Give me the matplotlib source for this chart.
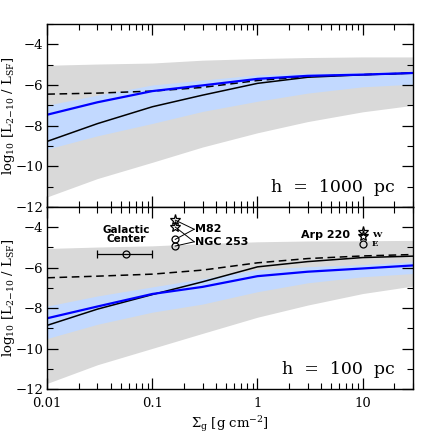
import numpy as np
import matplotlib
matplotlib.use('Agg')
import matplotlib.pyplot as plt
from matplotlib.ticker import LogLocator, NullFormatter, FixedLocator, MultipleLocator

plt.rcParams['font.family'] = 'DejaVu Serif'
plt.rcParams['mathtext.fontset'] = 'dejavuserif'

# surface density grid [g cm^-2]
sigma = [0.01, 0.03, 0.1, 0.3, 1, 3, 10, 30]

# h = 1000 pc
top_gray_hi = [-5.03, -4.97, -4.92, -4.78, -4.70, -4.65, -4.62, -4.62]
top_gray_lo = [-11.5, -10.6, -9.8, -9.05, -8.35, -7.8, -7.32, -7.0]
top_blue_hi = [-6.99, -6.5, -6.0, -5.76, -5.5, -5.43, -5.39, -5.33]
top_blue_lo = [-9.15, -8.5, -7.89, -7.3, -6.8, -6.4, -6.09, -5.96]
top_blue = [-7.46, -6.85, -6.3, -6.02, -5.7, -5.55, -5.49, -5.41]
top_dash = [-6.45, -6.4, -6.3, -6.12, -5.78, -5.58, -5.49, -5.41]
top_black = [-8.77, -7.9, -7.07, -6.5, -5.92, -5.62, -5.5, -5.42]

# h = 100 pc
bot_gray_hi = [-5.05, -4.98, -4.92, -4.81, -4.72, -4.68, -4.67, -4.65]
bot_gray_lo = [-11.72, -10.8, -9.99, -9.25, -8.45, -7.85, -7.28, -6.91]
bot_blue_hi = [-7.9, -7.4, -6.95, -6.55, -6.1, -5.95, -5.85, -5.71]
bot_blue_lo = [-9.5, -8.8, -8.2, -7.8, -7.19, -6.75, -6.45, -6.29]
bot_blue = [-8.5, -7.92, -7.3, -6.95, -6.42, -6.2, -6.04, -5.89]
bot_dash = [-6.5, -6.42, -6.32, -6.12, -5.76, -5.55, -5.42, -5.35]
bot_black = [-8.85, -8.05, -7.33, -6.7, -5.96, -5.7, -5.5, -5.43]

# observed galaxies
gc_x, gc_y, gc_xlo, gc_xhi = 0.056, -5.33, 0.030, 0.1
star_x = 0.165
star_y = [-3.65, -3.99]      # M82, NGC 253
circ_y = [-4.6, -4.93]
lab_x = 0.25
lab_y = [-4.1, -4.72]
lab_txt = ['M82', 'NGC 253']
arp_x = 10.2
arp_star_y = [-4.25, -4.42]
arp_circ_y = -4.83

gray = '#d9d9d9'
lblue = '#c2d9ff'

fig = plt.figure(figsize=(4.36, 4.36), dpi=100)
ax1 = fig.add_axes([0.1085, 0.5252, 0.838, 0.4198])
ax2 = fig.add_axes([0.1085, 0.1078, 0.838, 0.4174])

panels = [
    (ax1, top_gray_lo, top_gray_hi, top_blue_lo, top_blue_hi, top_blue, top_dash, top_black, 'h  =  1000  pc'),
    (ax2, bot_gray_lo, bot_gray_hi, bot_blue_lo, bot_blue_hi, bot_blue, bot_dash, bot_black, 'h  =  100  pc'),
]
for ax, glo, ghi, blo, bhi, bl, da, bk, lab in panels:
    ax.fill_between(sigma, glo, ghi, color=gray, lw=0)
    ax.fill_between(sigma, blo, bhi, color=lblue, lw=0)
    ax.plot(sigma, bk, color='k', lw=1.1)
    ax.plot(sigma, da, color='k', lw=1.1, ls=(0, (5, 3)))
    ax.plot(sigma, bl, color='#0000ff', lw=1.6)
    ax.set_xscale('log')
    ax.set_xlim(0.01, 30)
    ax.set_ylim(-12, -3)
    ax.yaxis.set_major_locator(FixedLocator([-12, -10, -8, -6, -4]))
    ax.yaxis.set_minor_locator(MultipleLocator(1))
    ax.xaxis.set_major_locator(LogLocator(base=10))
    ax.xaxis.set_minor_locator(LogLocator(base=10, subs=np.arange(2, 10)))
    ax.xaxis.set_minor_formatter(NullFormatter())
    ax.tick_params(which='both', direction='in', top=True, right=True, labelsize=9.5)
    ax.tick_params(which='major', length=8, width=0.9, pad=3)
    ax.tick_params(which='minor', length=4, width=0.8)
    ax.tick_params(axis='x', which='major', pad=6)
    ax.set_yticklabels(['\u221212', '\u221210', '\u22128', '\u22126', '\u22124'])
    ax.set_ylabel(r'log$_{10}$ [L$_{2\!-\!10}$ / L$_{\rm SF}$]', fontsize=9.5)
    ax.yaxis.set_label_coords(-0.083, 0.5)
    ax.text(0.95, 0.06, lab, transform=ax.transAxes, ha='right', va='bottom', fontsize=12.5)
    for s in ax.spines.values():
        s.set_linewidth(1.0)

ax1.tick_params(labelbottom=False)
ax2.set_xticks([0.01, 0.1, 1, 10])
ax2.set_xticklabels(['0.01', '0.1', '1', '10'])
ax2.set_xlabel(r'$\Sigma_{\rm g}$ [g cm$^{-2}$]', fontsize=9.5, labelpad=3)

# Galactic Center
ax2.errorbar([gc_x], [gc_y], xerr=[[gc_x - gc_xlo], [gc_xhi - gc_x]], fmt='o', mfc='none',
             mec='k', ecolor='k', ms=5, capsize=3, lw=0.9, mew=0.9)
ax2.text(gc_x, -4.85, 'Galactic\nCenter', ha='center', va='bottom', fontsize=7.5,
         fontweight='bold', family='DejaVu Sans', linespacing=0.9)

# M82 / NGC 253
for i in range(2):
    ax2.plot([star_x, lab_x], [star_y[i], lab_y[i]], color='k', lw=0.7)
    ax2.plot([star_x, lab_x], [circ_y[i], lab_y[i]], color='k', lw=0.7)
    ax2.text(lab_x * 1.02, lab_y[i], lab_txt[i], ha='left', va='center', fontsize=8,
             fontweight='bold', family='DejaVu Sans')
ax2.plot([star_x] * 2, star_y, ls='none', marker='*', ms=8, mfc='none', mec='k', mew=0.9)
ax2.plot([star_x] * 2, circ_y, ls='none', marker='o', ms=5, mfc='none', mec='k', mew=0.9)

# Arp 220
ax2.plot([arp_x] * 2, arp_star_y, ls='none', marker='*', ms=8, mfc='none', mec='k', mew=0.9)
ax2.plot([arp_x], [arp_circ_y], ls='none', marker='o', ms=5, mfc='none', mec='k', mew=0.9)
ax2.text(arp_x / 1.35, -4.4, 'Arp 220', ha='right', va='center', fontsize=8,
         fontweight='bold', family='DejaVu Sans')
ax2.text(arp_x * 1.2, -4.38, 'W', ha='left', va='center', fontsize=6, fontweight='bold')
ax2.text(arp_x * 1.2, -4.85, 'E', ha='left', va='center', fontsize=6, fontweight='bold')

fig.savefig('out.png', dpi=100)
